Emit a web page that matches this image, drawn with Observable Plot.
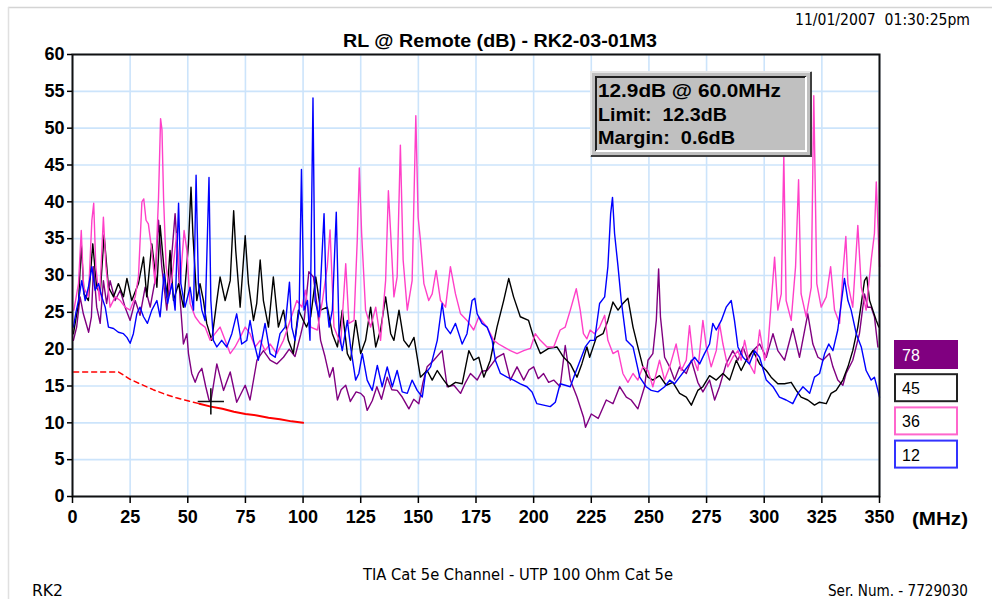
<!DOCTYPE html>
<html>
<head>
<meta charset="utf-8">
<script src="https://cdn.jsdelivr.net/npm/d3@7"></script>
<script src="https://cdn.jsdelivr.net/npm/@observablehq/plot@0.6"></script>
<style>
  html, body { margin: 0; padding: 0; background: #ffffff; }
  #chart { position: relative; width: 992px; height: 599px; overflow: hidden; }
  svg text { white-space: pre; }
</style>
</head>
<body>
<div id="chart"></div>
<script>
// ---- Data ----
const pairNames = ["78", "45", "36", "12"];
const pairColors = ["#800080", "#000000", "#ff40c8", "#0000ff"];
const legendBorders = ["#800080", "#222222", "#ff66cc", "#3333ff"];
const xTicks = [0, 25, 50, 75, 100, 125, 150, 175, 200, 225, 250, 275, 300, 325, 350];
const yTicks = [0, 5, 10, 15, 20, 25, 30, 35, 40, 45, 50, 55, 60];

// [frequency MHz, return loss dB]
const p78 = [[0.4,21.2],[1.8,23],[3.3,27.1],[4.7,24.8],[7,22.3],[8.2,24.4],[9.1,31.2],[10.5,25.7],[12,23.5],[13.4,29.3],[14.8,26.2],[16.3,29.3],[18.5,26.6],[20.7,28],[22.8,25.7],[25,23.9],[27.2,26.6],[29.3,24.6],[31.5,28.4],[33.7,25.7],[35.8,29.3],[37.3,37.5],[38.7,31.2],[40.9,25.3],[42.3,29.8],[44.5,38.4],[45.5,33.4],[46.7,26.6],[48.1,20.7],[49.6,22.1],[50.3,19.4],[51.7,16.7],[53.2,15.5],[54.6,16.7],[56.1,17.4],[57.8,14.9],[59.2,13.1],[60,12.9],[62.6,18],[65.5,14.4],[68.4,16.9],[71.2,12.8],[74.9,15.1],[77,13.1],[80,18.5],[82.8,19.8],[85.7,18.5],[88.6,18],[91.5,18.9],[94,20],[96.5,19],[99,22],[100.5,24],[102.5,30.5],[104.5,29.8],[106,26],[107.6,21.2],[109.5,19],[111.5,16.2],[113,17.5],[114.9,13.1],[116.5,14.5],[118.5,15.1],[120.5,12.9],[123,14.2],[125,14],[126.5,13.5],[127.8,11.7],[130,13],[132,14.9],[134,13.2],[136.5,16.2],[138.5,14.5],[140.8,14.4],[143,13.5],[145.9,11.9],[148,13.2],[150.2,12.6],[152,15.5],[153.8,17.6],[156.7,18.5],[160.3,19.8],[162.5,14.9],[165.4,15.1],[168.3,14],[170.5,15.5],[172.6,16.7],[175.5,15.8],[177.5,17],[179.8,17.1],[182,18],[184.1,18.9],[187,19.4],[189.9,15.8],[192.8,17.6],[195.7,15.8],[198,17.2],[200,17.6],[202,16],[204.3,16.7],[206.5,15.5],[208.7,15.8],[211.5,14.9],[213.7,20.5],[215.9,15.8],[218.8,13.5],[221.6,10.8],[222.5,9.4],[225,11.2],[228,10.6],[231.5,13.1],[234.4,12.6],[237.3,14.9],[240.2,13.5],[242.3,13.1],[245.2,11.9],[248.1,14.9],[249.6,18.5],[251.7,19.4],[253.2,23.9],[254.2,30.9],[255,24.4],[256.8,18.9],[259,17.6],[261.1,15.8],[263.3,17.6],[266.2,16.7],[268.4,18.5],[271.2,15.5],[273.4,14.2],[276.3,15.8],[278.5,13.1],[280.6,14.9],[283.5,18],[286.4,19.8],[288.6,18.5],[290.8,20.3],[292.9,18.5],[295.1,19.8],[298,20.7],[300.9,18.9],[303.8,22.1],[305.9,19.8],[308.8,18.5],[312.4,22.8],[315.3,18.9],[318.9,24.8],[321.1,20.7],[323.3,18.9],[325.4,18.5],[328.3,19.4],[329.8,17.6],[331.9,15.8],[334.1,15.1],[335.5,16.7],[338.4,18.5],[341.3,22.1],[343.5,27.5],[344.9,25.7],[346.4,25.7],[347.8,24.4],[349.3,20.3]];

const p45 = [[0.4,22.1],[2.6,26.2],[3.8,34.3],[5,27.5],[6.9,26.6],[8.8,34.3],[10.5,28.4],[12,27.5],[13.7,35.5],[15.6,28.4],[17.8,27.1],[19.9,28.9],[22.1,27.1],[23.6,29.6],[25.7,26.6],[28.6,28.9],[30.8,32.5],[32.2,27.1],[34.4,34.3],[36.6,28.4],[38,36.8],[39.5,31.6],[40.9,27.1],[42.3,33.4],[43.8,26.6],[46,28.9],[48.1,25.7],[50.3,34.3],[51.4,42],[52.2,35.7],[53.9,26.6],[55.3,28.9],[56.8,26.6],[58.2,23.5],[60.4,21.2],[62.6,26.6],[64,29.8],[66.2,26.6],[68.4,29.3],[69.9,38.8],[70.8,33.4],[72.7,25.7],[74.9,35.4],[76.3,28.9],[78.5,23.9],[79.9,26.2],[81.4,32.1],[82.8,26.6],[85,23],[87.1,29.8],[89.3,23],[91.5,25.3],[93.6,21.2],[95.8,19.4],[98,25.3],[100.1,23.9],[101.5,23],[103.3,24.4],[105.5,29.8],[107.6,25.3],[110.5,25.7],[112.7,22.1],[114.9,20.3],[117,25.3],[119.2,19.4],[120.6,18.5],[122.8,23.9],[125,19.4],[127.1,21.2],[129.3,25.7],[131.5,20.3],[133.6,22.6],[135.8,27.1],[138,22.1],[139.4,21.2],[141.6,25.3],[143.7,21.2],[145.9,20.3],[148.1,21.6],[150.9,16.2],[153.8,17.1],[156,15.8],[158.2,17.1],[161,15.8],[163.2,14.9],[166.1,15.5],[169,15.3],[171.9,19.8],[174,18.5],[176.2,18.9],[178.4,16.2],[181.2,18.5],[184.1,23],[187,26.6],[189.2,29.6],[191.3,27.1],[194.2,24.4],[197.8,23.9],[200,21.6],[202.9,19.4],[206.5,20.1],[210.1,20.3],[213,18.9],[215.9,18],[218.8,16.2],[220.9,18],[223.1,20.3],[224.3,18.9],[227.2,21.6],[230.1,22.1],[232.2,23.9],[234.4,26.4],[236.6,25.3],[238.7,26.2],[240.9,26.9],[243.1,23],[245.2,20.3],[247.4,17.6],[249.6,16.2],[251.7,15.8],[254.6,16.4],[257.5,15.1],[260.4,15.5],[263.3,14],[266.2,13.5],[268.4,12.4],[271.2,14.4],[273.4,14.9],[276.3,16.4],[279.2,15.8],[282.1,16.7],[285,15.8],[287.9,18.5],[290,17.1],[292.2,18.5],[295.1,19.8],[298,18],[300.9,17.1],[303,16.2],[305.9,15.3],[308.8,15.3],[311.7,15.5],[313.9,14.4],[316,13.5],[318.9,13.1],[321.8,12.4],[324,12.8],[326.9,12.6],[329,14],[331.2,14.4],[334.1,15.8],[336.3,17.6],[338.4,19.8],[340.6,23],[342.1,26.2],[343.5,29.3],[344.5,29.8],[345.7,26.6],[347.1,25.3],[348.6,23.9],[349.7,23]];

const p36 = [[0.6,25.3],[2.6,28.9],[3.8,36.1],[4.8,28.4],[6.9,27.1],[8.4,37.5],[9.2,39.8],[10.1,31.2],[11.7,26.6],[13.4,37.9],[14.5,31.2],[16.3,25.7],[18.5,27.1],[20.7,26.6],[22.8,25.7],[25,25.3],[27.2,27.1],[28.6,29.8],[30.1,40],[30.9,40.4],[31.9,37.5],[32.9,37],[34.4,33.4],[35.8,28.9],[37.3,40.5],[38.2,51.3],[38.8,49.8],[39.5,40.5],[40.6,31.2],[42.3,27.5],[43.8,31.6],[45.2,35.7],[46.7,28.9],[48.4,36.1],[49.6,33.4],[51,26.2],[53.2,24.4],[55.3,23.5],[57.5,23],[59.7,21.2],[61.8,22.1],[64,23],[66.2,21.2],[68.4,19.4],[70.5,20.3],[72.7,21.6],[74.9,23],[77,22.1],[79.2,20.3],[81.4,21.2],[83.5,19.8],[85.7,20.7],[88.6,19.4],[91.5,21.2],[94.4,23.9],[97.3,26.6],[99.5,25.7],[101,28],[103.3,23],[106.2,22.6],[108.4,26.6],[110.5,31.2],[111.7,36.2],[113.4,23],[116.3,20.7],[118.5,31.6],[119.9,23.5],[122.1,23.9],[123.5,34.8],[124.4,44.6],[125.4,35.7],[127.1,25.3],[129.3,23],[131.5,25.7],[133.6,21.2],[135.8,29.3],[137,41.5],[138,35.7],[139.4,27.1],[140.8,29.8],[142.2,47.7],[143.4,32.1],[145.2,25.3],[147.3,29.3],[148.9,51.7],[149.9,37.9],[150.9,34.8],[152.4,28.9],[154.5,26.6],[156,27.5],[157.7,30.7],[159.6,26.6],[161.8,25.7],[163.9,31.2],[166.1,27.5],[168.3,24.8],[171.1,23.9],[174,22.6],[176.2,24.4],[179.8,23],[182.7,21.2],[184.8,20.7],[187,20.3],[189.9,19.8],[192.8,19.4],[195.7,19.8],[198.6,20.1],[200.7,22.1],[202.9,21.2],[205.8,20.3],[208.7,20.3],[211.5,22.6],[213.7,23],[215.9,25.3],[218.5,28.2],[220.2,25.3],[221.6,22.1],[223.1,21.4],[224.5,22.6],[226.4,22.1],[228.6,23],[230.8,24.6],[232.2,21.2],[234.4,19.4],[236.6,19.8],[238.7,16.7],[240.9,15.5],[243.1,16.7],[245.2,15.8],[247.4,17.6],[249.6,17.1],[251.7,14.9],[254.6,18.5],[256.8,15.8],[259,17.6],[261.8,20.7],[264,17.1],[266.2,18.5],[267.6,23.2],[269.1,18.9],[271.2,17.1],[273.4,23.9],[274.9,20.3],[277,17.6],[279.2,19.8],[280.6,23.5],[282.1,20.7],[284.2,17.6],[286.4,18.9],[288.6,19.8],[290,18.5],[291.5,21.2],[293.6,18],[295.8,16.7],[298,22.6],[300.2,18.5],[301.6,20.3],[303,26.2],[304.5,32.5],[305.9,25.3],[307.4,27.5],[308.5,46.3],[309.5,26.6],[311.7,23.9],[313.6,31.2],[314.9,43],[316,27.5],[318.2,24.4],[320.4,28.4],[321.5,54.4],[322.8,28.9],[324.7,25.7],[326.9,27.1],[328.8,31.2],[330.5,25.3],[332.7,23.5],[334.1,30.2],[335.4,35.3],[336.3,28.9],[338.4,25.7],[340.6,36.8],[342.1,28.4],[344.2,25.3],[346.4,32.1],[347.8,35.7],[348.6,42.7],[350,31.2]];

const p12 = [[0.4,23],[1.5,25],[2.6,26.6],[4,29.3],[5.5,26.6],[6.9,28.4],[8.4,31.2],[9.8,28],[11.3,28.9],[12.7,27.1],[14.2,25.7],[15.6,23],[17.8,22.8],[19.9,22.3],[22.1,22.1],[23.6,21.6],[25,20.8],[26.4,22.1],[27.9,24.8],[29.3,25.7],[30.8,24.4],[32.5,23.5],[34.4,25.3],[36.6,26.6],[38,24.4],[39.7,30.2],[41.2,26.2],[43.1,28.9],[44.5,25.3],[46,39.8],[47,28.9],[48.8,25.7],[51,28.4],[52.5,25.3],[53.6,43.6],[54.6,28.9],[56.1,25.3],[57.5,23.9],[59.2,43.3],[60,26.6],[61.1,21.2],[62.6,20.3],[64.7,21.2],[66.9,20.3],[69.1,22.1],[71.2,24.8],[73.4,20.7],[75.6,21.2],[77,23.9],[78.5,21.2],[80.6,18.5],[82.1,21.2],[83.5,23.5],[85.7,19.4],[87.9,18.9],[90,22.1],[92.2,23],[94.1,29.1],[95.1,23],[96.5,21.2],[98.3,25.3],[99.3,44.4],[100.4,25.3],[101.9,26.6],[103,21.2],[104.3,54.1],[105.2,26.6],[106.9,24.4],[108.1,32.1],[109.1,38.4],[110.1,26.6],[111.3,23],[112.7,25.3],[114.4,38.6],[115.6,22.1],[117,19.8],[119.2,23.9],[120.6,20.3],[122.8,15.8],[124.2,16.7],[125.7,19.4],[127.8,15.8],[130,14.4],[132.2,17.8],[134.3,14.9],[136.5,17.6],[138.7,14.9],[140.8,17.1],[143,14.2],[145.2,14],[147.3,15.8],[149.5,14.4],[151.7,13.5],[153.1,16.7],[155.3,17.6],[158.2,21.2],[160.3,26.2],[161.8,23],[163.9,22.1],[166.1,23.5],[169,20.7],[171.1,22.1],[173.3,26.6],[174.5,26.9],[175.5,24.8],[177.6,23.5],[179.8,23],[182,21.2],[183.4,18.5],[185.6,16.7],[188.5,16.2],[191.3,15.8],[194.2,15.3],[197.1,14.9],[199.3,14.2],[201.4,12.6],[204.3,12.4],[207.2,12.2],[209.4,12.8],[211.5,15.3],[213.7,15.1],[215.9,14.9],[218,16.7],[220.2,18.5],[222.4,20.3],[224.5,21.2],[226.4,21.2],[228.6,26.2],[230.8,27.1],[232.2,31.2],[233.4,38.4],[234.2,40.6],[235.1,35.7],[236.6,31.2],[238,26.6],[240.2,21.2],[243.1,20.3],[246,16.2],[248.8,14.9],[251,14.4],[253.9,14.2],[256.8,14.9],[259,15.8],[261.1,15.3],[263.3,16.2],[265.5,17.1],[267.6,18],[269.8,18.9],[272,18],[274.1,19.4],[276.3,20.7],[277.7,23.5],[279.2,22.6],[281.4,23.9],[283.5,25.7],[285.7,26.6],[287.1,23.9],[288.6,20.3],[290.8,18.9],[293.6,18],[295.8,19.8],[298,18.9],[300.9,15.8],[303.8,14.9],[306.6,13.5],[309.5,13.1],[312.4,12.6],[314.6,14],[316.8,14.9],[319.7,14],[321.8,16.2],[324,16.7],[326.2,19.4],[328,20.7],[329.8,19.8],[331.9,22.6],[333.4,26.2],[334.8,29.6],[336.3,26.6],[337.7,25.3],[339.9,22.1],[342.1,20.3],[344.2,17.1],[346.4,15.8],[347.8,16.2],[349.3,14.4],[350,13.5]];

// Limit line (dashed below the split frequency, solid above)
const limitFreq = [0.5, 20, 25, 30, 35, 40, 45, 50, 55, 60, 65, 70, 75, 80, 85, 90, 95, 100];
const limitDb   = [16.9, 16.9, 15.9, 15.2, 14.5, 13.9, 13.4, 13.0, 12.6, 12.2, 11.9, 11.5, 11.2, 11.0, 10.7, 10.5, 10.2, 10.0];
const limitSplit = 55;

// Marker / readout
const marker = { freq: 60.0, db: 12.9, limit: 12.3, margin: 0.6 };

// Text
const titleText = "RL @ Remote (dB) - RK2-03-01M3";
const dateText = "11/01/2007  01:30:25pm";
const footerText = "TIA Cat 5e Channel - UTP 100 Ohm Cat 5e";
const leftFooter = "RK2";
const rightFooter = "Ser. Num. - 7729030";
const xUnit = "(MHz)";

// ---- Build tables ----
const seriesList = [p78, p45, p36, p12];
const rows = [];
seriesList.forEach((s, i) => s.forEach(([f, v]) => rows.push({ pair: pairNames[i], freq: f, db: v })));
const limitRows = limitFreq.map((f, i) => ({ freq: f, db: limitDb[i] }));
const limitDashed = limitRows.filter(d => d.freq <= limitSplit);
const limitSolid = limitRows.filter(d => d.freq >= limitSplit);

const W = 992, H = 599;
const plot = Plot.plot({
  width: W, height: H,
  marginLeft: 72, marginRight: 113, marginTop: 54, marginBottom: 103,
  style: { fontFamily: "'Liberation Sans', Arial, sans-serif", background: "#ffffff", color: "#000", overflow: "visible" },
  x: { domain: [0, 350], label: null },
  y: { domain: [0, 60], label: null },
  color: { domain: pairNames, range: pairColors },
  marks: [
    Plot.gridX(xTicks, { stroke: "#cce4fb", strokeOpacity: 1, strokeWidth: 1.6 }),
    Plot.gridY(yTicks, { stroke: "#cce4fb", strokeOpacity: 1, strokeWidth: 1.6 }),
    Plot.line(rows, { x: "freq", y: "db", z: "pair", stroke: "pair", strokeWidth: 1.4 }),
    Plot.line(limitDashed, { x: "freq", y: "db", stroke: "#ff0000", strokeWidth: 1.5, strokeDasharray: "5,4" }),
    Plot.line(limitSolid, { x: "freq", y: "db", stroke: "#ff0000", strokeWidth: 2 }),
    Plot.dot([marker], { x: "freq", y: "db", symbol: "plus", r: 8.5, stroke: "#111", strokeWidth: 1.6 }),
    Plot.frame({ stroke: "#111", strokeWidth: 2 }),
    Plot.axisX(xTicks, { tickSize: 7, tickPadding: 7, label: null, tickFormat: d => String(d) }),
    Plot.axisY(yTicks, { tickSize: 5, tickPadding: 3, label: null, tickFormat: d => String(d) })
  ]
});
document.getElementById("chart").appendChild(plot);

const svg = d3.select(plot);
svg.selectAll('g[aria-label="x-axis tick label"] text, g[aria-label="y-axis tick label"] text')
  .style("font-size", "18px").style("font-weight", "bold").style("font-family", "'Liberation Sans', Arial, sans-serif");
svg.selectAll('g[aria-label="x-axis tick"] path, g[aria-label="y-axis tick"] path').attr("stroke-width", 1.5);

const narrow = "'Liberation Sans Narrow', 'DejaVu Sans Condensed', 'Liberation Sans', Arial, sans-serif";
const over = svg.append("g").attr("class", "overlay").attr("text-anchor", "start");

// light page frame
over.append("line").attr("x1", 8).attr("x2", W).attr("y1", 7.5).attr("y2", 7.5).attr("stroke", "#d4d4d4").attr("stroke-width", 1.5);
over.append("line").attr("x1", 8.5).attr("x2", 8.5).attr("y1", 7).attr("y2", H).attr("stroke", "#e0e0e0").attr("stroke-width", 1.5);

// date
over.append("text").text(dateText).attr("x", 970).attr("y", 25).attr("text-anchor", "end")
  .attr("textLength", 175).attr("lengthAdjust", "spacingAndGlyphs")
  .style("font-family", narrow).style("font-size", "15px").attr("fill", "#000");

// title
over.append("text").text(titleText).attr("x", 500).attr("y", 46.5).attr("text-anchor", "middle")
  .attr("textLength", 314).attr("lengthAdjust", "spacingAndGlyphs")
  .style("font-family", "'Liberation Sans', Arial, sans-serif").style("font-size", "19px").style("font-weight", "bold").attr("fill", "#000");

// unit label
over.append("text").text(xUnit).attr("x", 912).attr("y", 525).attr("text-anchor", "start")
  .attr("textLength", 56).attr("lengthAdjust", "spacingAndGlyphs")
  .style("font-family", "'Liberation Sans', Arial, sans-serif").style("font-size", "18px").style("font-weight", "bold").attr("fill", "#000");

// footers
over.append("text").text(footerText).attr("x", 518).attr("y", 580).attr("text-anchor", "middle")
  .attr("textLength", 310).attr("lengthAdjust", "spacingAndGlyphs")
  .style("font-family", narrow).style("font-size", "15px").attr("fill", "#000");
over.append("text").text(leftFooter).attr("x", 32).attr("y", 596).attr("text-anchor", "start")
  .attr("textLength", 31).attr("lengthAdjust", "spacingAndGlyphs")
  .style("font-family", narrow).style("font-size", "15px").attr("fill", "#000");
over.append("text").text(rightFooter).attr("x", 968).attr("y", 596).attr("text-anchor", "end")
  .attr("textLength", 140).attr("lengthAdjust", "spacingAndGlyphs")
  .style("font-family", narrow).style("font-size", "15px").attr("fill", "#000");

// readout box (3D bevel)
const bx = 590, by = 71, bw = 222, bh = 86;
const box = over.append("g");
box.append("rect").attr("x", bx).attr("y", by).attr("width", bw).attr("height", bh).attr("fill", "#c0c0c0");
box.append("path").attr("d", `M${bx+1},${by+bh-1}V${by+1}H${bx+bw-1}`).attr("fill", "none").attr("stroke", "#e6e6e6").attr("stroke-width", 2);
box.append("path").attr("d", `M${bx+1},${by+bh-1}H${bx+bw-1}V${by+1}`).attr("fill", "none").attr("stroke", "#404040").attr("stroke-width", 2);
box.append("path").attr("d", `M${bx+6},${by+bh-6}V${by+6}H${bx+bw-6}`).attr("fill", "none").attr("stroke", "#202020").attr("stroke-width", 2);
box.append("path").attr("d", `M${bx+6},${by+bh-6}H${bx+bw-6}V${by+6}`).attr("fill", "none").attr("stroke", "#ffffff").attr("stroke-width", 2);
const boxLines = [
  `${marker.db.toFixed(1)}dB @ ${marker.freq.toFixed(1)}MHz`,
  `Limit:  ${marker.limit.toFixed(1)}dB`,
  `Margin:  ${marker.margin.toFixed(1)}dB`
];
const boxWidths = [183, 129, 137];
boxLines.forEach((t, i) => {
  box.append("text").text(t).attr("x", bx + 8).attr("y", by + 26 + i * 23.5).attr("text-anchor", "start")
    .attr("textLength", boxWidths[i]).attr("lengthAdjust", "spacingAndGlyphs")
    .style("font-family", "'Liberation Sans', Arial, sans-serif").style("font-size", "19px").style("font-weight", "bold")
    .attr("fill", "#000");
});

// legend
const lg = over.append("g");
pairNames.forEach((name, i) => {
  const y0 = 341 + i * 33.2;
  lg.append("rect").attr("x", 895).attr("y", y0).attr("width", 62).attr("height", 27)
    .attr("fill", i === 0 ? pairColors[0] : "#ffffff").attr("stroke", legendBorders[i]).attr("stroke-width", 2);
  lg.append("text").text(name).attr("x", 902).attr("y", y0 + 20).attr("text-anchor", "start")
    .style("font-family", "'Liberation Sans', Arial, sans-serif").style("font-size", "16px")
    .attr("fill", i === 0 ? "#ffffff" : "#000000");
});
</script>
</body>
</html>
